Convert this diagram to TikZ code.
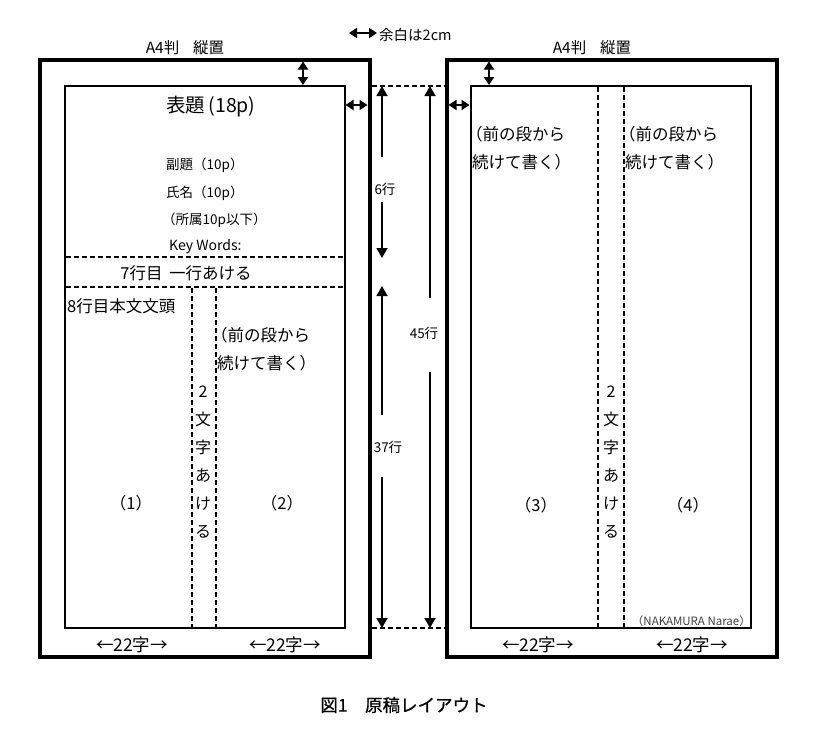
\documentclass[tikz,border=0pt]{standalone}
\usepackage{fontspec}
\setmainfont{Noto Sans CJK JP}
\newfontfamily\capfont[FakeBold=0.8]{Noto Sans CJK JP}
\usetikzlibrary{arrows.meta}
\begin{document}
\begin{tikzpicture}[x=1pt,y=-1pt,
  outerbox/.style={line width=4pt},
  innerbox/.style={line width=2pt},
  dashline/.style={line width=1.3pt, dash pattern=on 5pt off 3pt},
  arr/.style={line width=1.8pt, -{Triangle[length=10pt,width=11pt]}},
  darr/.style={line width=1.8pt, {Triangle[length=8pt,width=10pt]}-{Triangle[length=8pt,width=10pt]}},
  lbl/.style={inner sep=0pt, font=\fontsize{16.5}{19}\selectfont},
  small/.style={inner sep=0pt, font=\fontsize{13.5}{16}\selectfont},
  big/.style={inner sep=0pt, font=\fontsize{19.5}{22}\selectfont},
  wid/.style={inner sep=0pt, font=\fontsize{17.5}{20}\selectfont},
]
\useasboundingbox (0,0) rectangle (825,750);
% page rectangles
\draw[outerbox] (39.5,59.5) rectangle (369.5,657);
\draw[innerbox] (64.5,86) rectangle (344.5,628);
\draw[outerbox] (446.5,59.5) rectangle (776.5,657);
\draw[innerbox] (470.5,86) rectangle (750.5,628);
% dashed lines left page
\draw[dashline] (65.5,257) -- (343.5,257);
\draw[dashline] (65.5,287) -- (343.5,287);
\draw[dashline] (192,288) -- (192,627);
\draw[dashline] (216,288) -- (216,627);
% dashed lines right page
\draw[dashline] (598,87) -- (598,627);
\draw[dashline] (624,87) -- (624,627);
% dashed lines between pages
\draw[dashline] (371.5,86) -- (444.5,86);
\draw[dashline] (371.5,628) -- (444.5,628);
% margin arrows
\coordinate (lt1) at (303,61.5); \coordinate (lt2) at (303,85);
\coordinate (rt1) at (489,61.5); \coordinate (rt2) at (489,85);
\coordinate (lh1) at (345.5,105); \coordinate (lh2) at (367.5,105);
\coordinate (rh1) at (448.5,105); \coordinate (rh2) at (469.5,105);
\draw[darr] (lt1) -- (lt2);
\draw[darr] (rt1) -- (rt2);
\draw[darr] (lh1) -- (lh2);
\draw[darr] (rh1) -- (rh2);
% legend
\coordinate (lg1) at (349,33); \coordinate (lg2) at (377,33);
\draw[darr] (lg1) -- (lg2);
\node[inner sep=0pt, font=\fontsize{14.5}{17}\selectfont, anchor=west] (margin) at (379,35) {余白は2cm};
% line count arrows
\node[small] (l6) at (385,189) {6行};
\coordinate (a6t) at (382,86); \coordinate (a6g1) at (382,157);
\coordinate (a6g2) at (382,202); \coordinate (a6b) at (382,258);
\draw[arr] (a6g1) -- (a6t);
\draw[arr] (a6g2) -- (a6b);
\node[small] (l37) at (388,447) {37行};
\coordinate (a37t) at (382,286); \coordinate (a37g1) at (382,415);
\coordinate (a37g2) at (382,477); \coordinate (a37b) at (382,628);
\draw[arr] (a37g1) -- (a37t);
\draw[arr] (a37g2) -- (a37b);
\node[small] (l45) at (424,333) {45行};
\coordinate (a45t) at (430,86); \coordinate (a45g1) at (430,298);
\coordinate (a45g2) at (430,372); \coordinate (a45b) at (430,628);
\draw[arr] (a45g1) -- (a45t);
\draw[arr] (a45g2) -- (a45b);
% headings
\node[lbl, font=\fontsize{15.5}{18}\selectfont] (a4l) at (185,48) {A4判\hspace{0.9em}縦置};
\node[lbl, font=\fontsize{15.5}{18}\selectfont] (a4r) at (592,48) {A4判\hspace{0.9em}縦置};
% left page texts
\node[big] (title) at (211,107) {表題\,(18p)};
\node[small, anchor=west] (sub) at (166,165) {副題（10p）};
\node[small, anchor=west] (name) at (166,193) {氏名（10p）};
\node[small, anchor=west] (aff) at (162,220) {（所属10p以下）};
\node[small, font=\fontsize{14}{16}\selectfont, anchor=west] (kw) at (169,247) {Key Words:};
\node[lbl] (blank) at (186,273) {7行目\hspace{0.4em}一行あける};
\node[lbl, anchor=west] (start) at (67,306) {8行目本文文頭};
\node[lbl, anchor=west] (c2a) at (211,335) {（前の段から};
\node[lbl, anchor=west] (c2b) at (217,363) {続けて書く）};
\node[lbl, align=center, font=\fontsize{16}{28}\selectfont] (v1) at (203,462) {2\\文\\字\\あ\\け\\る};
\node[lbl] (n1) at (131,503) {（1）};
\node[lbl] (n2) at (282,503) {（2）};
% right page texts
\node[lbl, anchor=west] (c3a) at (466,134) {（前の段から};
\node[lbl, anchor=west] (c3b) at (472,162) {続けて書く）};
\node[lbl, anchor=west] (c4a) at (619,134) {（前の段から};
\node[lbl, anchor=west] (c4b) at (625,162) {続けて書く）};
\node[lbl, align=center, font=\fontsize{16}{28}\selectfont] (v2) at (611,462) {2\\文\\字\\あ\\け\\る};
\node[lbl] (n3) at (536,505) {（3）};
\node[lbl] (n4) at (688,505) {（4）};
\node[inner sep=0pt, anchor=east, font=\fontsize{11.5}{13}\selectfont, text=black!75] (auth) at (751,621) {（NAKAMURA Narae）};
% width labels
\node[wid] (w1) at (132,645) {←22字→};
\node[wid] (w2) at (285,645) {←22字→};
\node[wid] (w3) at (538,645) {←22字→};
\node[wid] (w4) at (692,645) {←22字→};
% caption
\node[inner sep=0pt, font=\fontsize{17.5}{20}\capfont] (cap) at (404,705) {図1\hspace{1em}原稿レイアウト};
\end{tikzpicture}
\end{document}
